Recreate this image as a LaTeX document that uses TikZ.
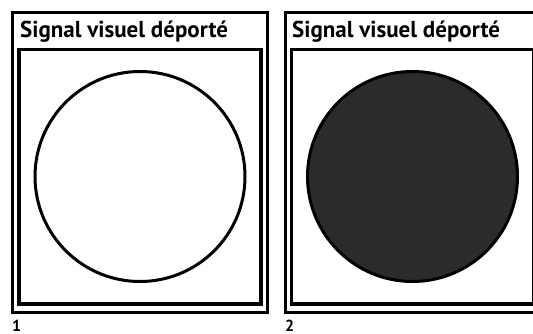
\documentclass[tikz,border=0pt]{standalone}
\usepackage{fontspec}
\setmainfont{PT Sans}
\begin{document}
\begin{tikzpicture}[x=1pt,y=-1pt,
  outerbox/.style={draw=black,line width=3pt,minimum width=255pt,minimum height=299.5pt,inner sep=0pt},
  innerbox/.style={draw=black,line width=3.5pt,minimum width=242pt,minimum height=254.5pt,inner sep=0pt},
  signal/.style={circle,draw=black,line width=3pt,minimum size=210pt,inner sep=0pt},
  titletext/.style={anchor=base west,inner sep=0pt,font=\bfseries\fontsize{23}{23}\selectfont},
  numtext/.style={anchor=base west,inner sep=0pt,font=\bfseries\fontsize{16}{16}\selectfont}]
\useasboundingbox (0,0) rectangle (533,334);
\clip (0,0) rectangle (533,334);
\fill[white] (0,0) rectangle (533,334);
% panel 1
\node[outerbox] (o1) at (140,162.25) {};
\node[innerbox] (i1) at (140,176.75) {};
\node[signal,fill=white] (c1) at (140,176.5) {};
\node[titletext] (t1) at (20,37.5) {Signal visuel déporté};
\node[numtext] (n1) at (12,331) {1};
% panel 2
\node[outerbox] (o2) at (412.5,162.25) {};
\node[innerbox] (i2) at (412.5,176.75) {};
\node[signal,fill=black!83] (c2) at (412.5,176.5) {};
\node[titletext] (t2) at (292,37.5) {Signal visuel déporté};
\node[numtext] (n2) at (285,331) {2};
\end{tikzpicture}
\end{document}
